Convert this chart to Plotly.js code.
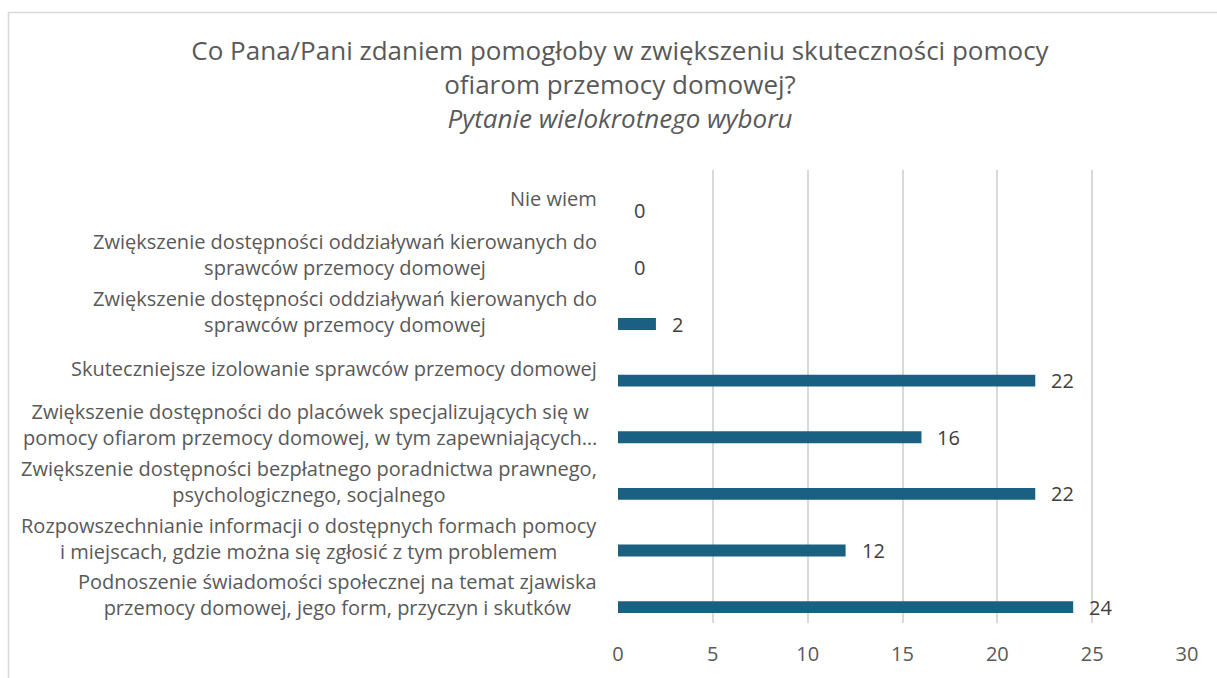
<!DOCTYPE html>
<html>
<head>
<meta charset="utf-8">
<script src="https://cdn.plot.ly/plotly-3.0.1.min.js"></script>
<style>
html,body{margin:0;padding:0;background:#fff;}
#chart{width:1217px;height:678px;}
</style>
</head>
<body>
<div id="chart"></div>
<script>
// Categories from top to bottom
const categories = [
  "Nie wiem",
  "Zwiększenie dostępności oddziaływań kierowanych do<br>sprawców przemocy domowej",
  "Zwiększenie dostępności oddziaływań kierowanych do<br>sprawców przemocy domowej",
  "Skuteczniejsze izolowanie sprawców przemocy domowej",
  "Zwiększenie dostępności do placówek specjalizujących się w<br>pomocy ofiarom przemocy domowej, w tym zapewniających…",
  "Zwiększenie dostępności bezpłatnego poradnictwa prawnego,<br>psychologicznego, socjalnego",
  "Rozpowszechnianie informacji o dostępnych formach pomocy<br>i miejscach, gdzie można się zgłosić z tym problemem",
  "Podnoszenie świadomości społecznej na temat zjawiska<br>przemocy domowej, jego form, przyczyn i skutków"
];
const values = [0, 0, 2, 22, 16, 22, 12, 24];
const xTicks = [0, 5, 10, 15, 20, 25, 30];

const positions = categories.map((c, i) => i);
const barShift = 0.22;   // bars sit in lower part of each category band
const barWidth = 0.21;

const textColor = "#595959";
const font = "Open Sans, Liberation Sans, sans-serif";

const trace = {
  type: "bar",
  orientation: "h",
  x: values,
  y: positions,
  width: barWidth,
  offset: barShift - barWidth / 2,
  marker: {color: "#1a6082", line: {width: 0}},
  hoverinfo: "x"
};

const annotations = [];
categories.forEach((c, i) => {
  annotations.push({
    xref: "paper", yref: "y", x: 0, y: positions[i],
    xanchor: "right", yanchor: "middle", align: "center",
    xshift: -19, text: c, showarrow: false,
    font: {family: font, size: 20, color: textColor}
  });
  annotations.push({
    xref: "x", yref: "y", x: values[i], y: positions[i] + barShift,
    xanchor: "left", yanchor: "middle", xshift: 14,
    text: String(values[i]), showarrow: false,
    font: {family: font, size: 20, color: "#404040"}
  });
});

const layout = {
  width: 1217, height: 678,
  margin: {l: 618, r: 30, t: 170, b: 55},
  paper_bgcolor: "#ffffff", plot_bgcolor: "#ffffff",
  showlegend: false,
  title: {
    text: "Co Pana/Pani zdaniem pomogłoby w zwiększeniu skuteczności pomocy<br>ofiarom przemocy domowej?<br><i>Pytanie wielokrotnego wyboru</i>",
    x: 620 / 1217, xanchor: "center", xref: "container",
    yref: "container", y: 1 - 60 / 678, yanchor: "top",
    font: {family: font, size: 26, color: textColor}
  },
  xaxis: {
    range: [0, 30],
    tickvals: xTicks,
    ticktext: xTicks.map(String),
    showgrid: true, gridcolor: "#d9d9d9", gridwidth: 2,
    zeroline: false, showline: false, ticks: "",
    ticklabelstandoff: 17,
    tickfont: {family: font, size: 20, color: textColor},
    fixedrange: true
  },
  yaxis: {
    range: [7.5, -0.5],
    showticklabels: false, showgrid: false, zeroline: false, showline: false, ticks: "",
    fixedrange: true
  },
  shapes: [{
    type: "path", xref: "paper", yref: "paper",
    path: "M " + ((8.5 - 618) / 569) + " " + (-0.3) + " L " + ((8.5 - 618) / 569) + " " + ((623 - 12.5) / 453) +
          " L " + ((1230 - 618) / 569) + " " + ((623 - 12.5) / 453),
    line: {color: "#d9d9d9", width: 1.6}
  }],
  annotations: annotations
};

Plotly.newPlot("chart", [trace], layout, {displayModeBar: false, staticPlot: true});
</script>
</body>
</html>
